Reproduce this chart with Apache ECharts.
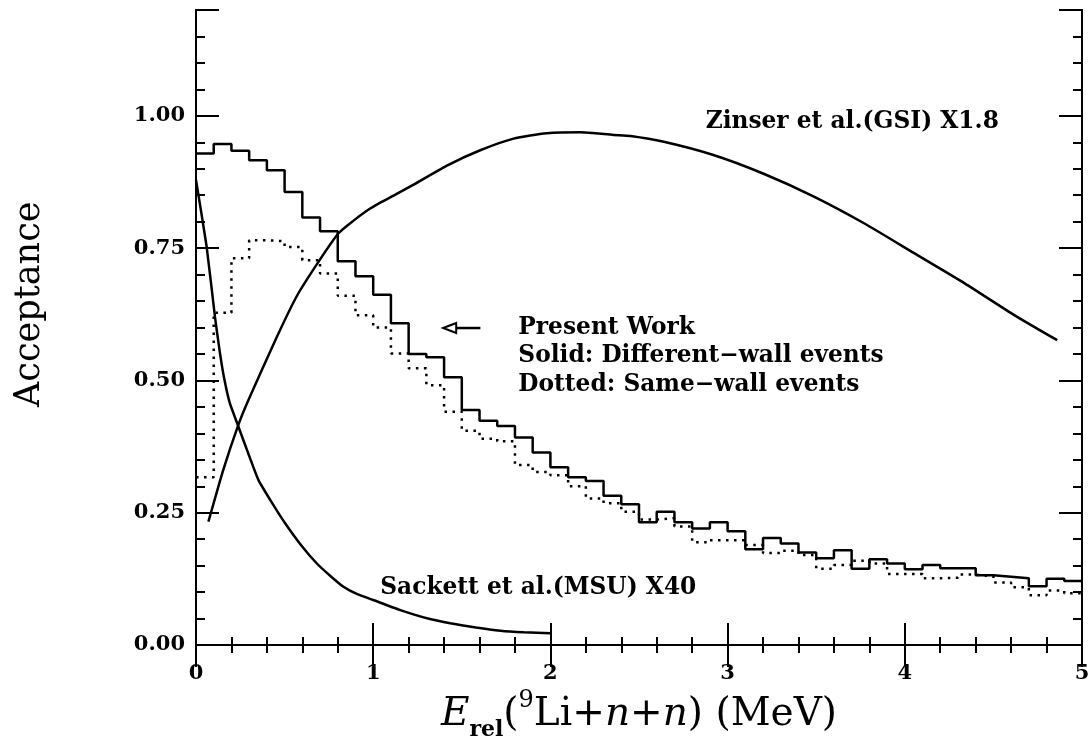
<!DOCTYPE html>
<html>
<head>
<meta charset="utf-8">
<script src="https://cdn.jsdelivr.net/npm/echarts@6/dist/echarts.min.js"></script>
<style>
html,body{margin:0;padding:0;background:#fff;}
#chart{width:1091px;height:736px;}
</style>
</head>
<body>
<div id="chart"></div>
<script>
// ---- data ----
const binLower = [0.0,0.1,0.2,0.3,0.4,0.5,0.6,0.7,0.8,0.9,1.0,1.1,1.2,1.3,1.4,1.5,1.6,1.7,1.8,1.9,
  2.0,2.1,2.2,2.3,2.4,2.5,2.6,2.7,2.8,2.9,3.0,3.1,3.2,3.3,3.4,3.5,3.6,3.7,3.8,3.9,
  4.0,4.1,4.2,4.3,4.4,4.5,4.6,4.7,4.8,4.9];
const binUpperEnd = 5.0;
const solidDifferentWall = [0.929,0.947,0.934,0.916,0.897,0.856,0.808,0.782,0.725,0.697,
  0.662,0.608,0.550,0.544,0.506,0.444,0.424,0.414,0.392,0.364,
  0.336,0.317,0.310,0.282,0.266,0.232,0.252,0.232,0.220,0.232,
  0.215,0.181,0.202,0.192,0.175,0.164,0.179,0.144,0.162,0.154,
  0.143,0.151,0.145,0.145,0.132,0.129,0.126,0.111,0.125,0.121];
const dottedSameWall = [0.317,0.628,0.731,0.765,0.763,0.752,0.727,0.702,0.660,0.623,
  0.600,0.551,0.523,0.491,0.441,0.405,0.390,0.385,0.340,0.327,
  0.321,0.300,0.277,0.268,0.252,0.237,0.240,0.224,0.194,0.198,
  0.198,0.189,0.174,0.178,0.170,0.144,0.151,0.159,0.154,0.134,
  0.134,0.126,0.127,0.133,0.130,0.118,0.109,0.094,0.103,0.098];
const sackettX = [0,0.06,0.107,0.135,0.16,0.19,0.239,0.295,0.352,0.43,0.503,0.59,0.682,0.76,0.832,0.91,1.0,1.153,1.32,1.435,1.58,1.718,1.85,2.0];
const sackettY = [0.879,0.753,0.62,0.552,0.502,0.458,0.413,0.362,0.312,0.268,0.230,0.19,0.154,0.13,0.110,0.096,0.085,0.066,0.049,0.041,0.033,0.027,0.024,0.022];
const zinserX = [0.07,0.154,0.239,0.296,0.456,0.57,0.691,0.804,0.889,0.97,1.04,1.13,1.228,1.416,1.604,1.792,1.98,2.17,2.356,2.452,2.64,2.92,3.2,3.49,3.77,4.05,4.34,4.62,4.86];
const zinserY = [0.233,0.331,0.416,0.463,0.582,0.66,0.724,0.778,0.802,0.822,0.836,0.852,0.870,0.906,0.935,0.957,0.967,0.969,0.964,0.962,0.951,0.926,0.891,0.847,0.797,0.741,0.683,0.623,0.576];
const xTicks = [0,1,2,3,4,5];
const yTickLabels = ['0.00','0.25','0.50','0.75','1.00'];
const yTitle = {text:'Acceptance', x:-0.94, y:0.644};
const annotations = [
  {text:'Zinser et al.(GSI) X1.8', x:2.876, y:0.988},
  {text:'Present Work\nSolid: Different\u2212wall events\nDotted: Same\u2212wall events', x:1.819, y:0.546},
  {text:'Sackett et al.(MSU) X40', x:1.04, y:0.108}
];
const arrowFrom = [1.605, 0.599];
const arrowTo = [1.395, 0.599];

// ---- build ----
function histData(vals){
  const d = binLower.map((x,i)=>[x, vals[i]]);
  d.push([binUpperEnd, vals[vals.length-1]]);
  return d;
}
const FONT = 'DejaVu Serif';
const chart = echarts.init(document.getElementById('chart'), null, {renderer:'canvas'});
const axisLine = {show:true, lineStyle:{color:'#000', width:2}};
function xAx(pos, labels){
  return {
    type:'value', position:pos, min:0, max:5, interval:1,
    axisLine: axisLine,
    axisTick:{show:true, inside:true, length:22, lineStyle:{color:'#000', width:2}},
    minorTick:{show:true, splitNumber:5, length:8, lineStyle:{color:'#000', width:2}},
    splitLine:{show:false}, minorSplitLine:{show:false},
    axisLabel:{show:labels, margin:18, color:'#000', fontFamily:FONT, fontWeight:'bold', fontSize:21,
      formatter: v => (xTicks.indexOf(v) >= 0 ? String(v) : '')},
    name: labels ? '{e|E}{sub|rel}{n|(}{sup|9}{n|Li+}{i|n}{n|+}{i|n}{n|) (MeV)}' : '',
    nameLocation:'middle', nameGap:36,
    nameTextStyle:{
      rich:{
        e:{fontFamily:FONT, fontStyle:'italic', fontSize:39, color:'#000', lineHeight:52, verticalAlign:'middle'},
        sub:{fontFamily:FONT, fontWeight:'bold', fontSize:22, color:'#000', lineHeight:52, verticalAlign:'bottom'},
        sup:{fontFamily:FONT, fontSize:24, color:'#000', lineHeight:52, verticalAlign:'top'},
        n:{fontFamily:FONT, fontSize:39, color:'#000', lineHeight:52, verticalAlign:'middle'},
        i:{fontFamily:FONT, fontStyle:'italic', fontSize:39, color:'#000', lineHeight:52, verticalAlign:'middle'}
      }
    }
  };
}
function yAx(pos, major, labels){
  return {
    type:'value', position:pos, min:0, max:1.2, interval: major ? 0.25 : 0.05,
    axisLine: axisLine,
    axisTick:{show:true, inside:true, length: major ? 23 : 9, lineStyle:{color:'#000', width:2}},
    splitLine:{show:false},
    axisLabel:{show:labels, margin:11, color:'#000', fontFamily:FONT, fontWeight:'bold', fontSize:21,
      formatter: v => { const s = v.toFixed(2); return yTickLabels.indexOf(s) >= 0 ? s : ''; }}
  };
}
const option = {
  backgroundColor:'#fff',
  animation:false,
  grid:{left:196, right:9, top:10, bottom:91, containLabel:false, outerBoundsMode:'none'},
  xAxis:[xAx('bottom', true), xAx('top', false)],
  yAxis:[yAx('left', true, true), yAx('left', false, false), yAx('right', true, false), yAx('right', false, false)],
  series:[
    {type:'line', name:'Solid: Different-wall events', step:'end', data:histData(solidDifferentWall),
      showSymbol:false, lineStyle:{color:'#000', width:2.5}, z:5},
    {type:'line', name:'Dotted: Same-wall events', step:'end', data:histData(dottedSameWall),
      showSymbol:false, lineStyle:{color:'#000', width:2.5, type:[2.5,5.5]}, z:5},
    {type:'line', name:'Sackett et al.(MSU) X40', data:sackettX.map((x,i)=>[x,sackettY[i]]),
      showSymbol:false, smooth:0.15, lineStyle:{color:'#000', width:2.5}, z:5},
    {type:'line', name:'Zinser et al.(GSI) X1.8', data:zinserX.map((x,i)=>[x,zinserY[i]]),
      showSymbol:false, smooth:0.2, lineStyle:{color:'#000', width:2.5}, z:5}
  ]
};
chart.setOption(option);

function px(p){ return chart.convertToPixel({xAxisIndex:0, yAxisIndex:0}, p); }
const elements = annotations.map(a => {
  const p = px([a.x, a.y]);
  return {type:'text', x:p[0], y:p[1], z:20,
    style:{text:a.text, fill:'#000', font:'bold 23.3px "DejaVu Serif"', lineHeight:28.5,
      textAlign:'left', textVerticalAlign:'middle'}};
});
const yt = px([yTitle.x, yTitle.y]);
elements.push({type:'text', x:yt[0], y:yt[1], rotation:Math.PI/2, z:20,
  style:{text:yTitle.text, fill:'#000', font:'35px "DejaVu Serif"', textAlign:'center', textVerticalAlign:'middle'}});
const a0 = px(arrowFrom), a1 = px(arrowTo);
elements.push({type:'line', z:20, shape:{x1:a0[0], y1:a0[1], x2:a1[0]+12, y2:a1[1]}, style:{stroke:'#000', lineWidth:2.5}});
elements.push({type:'polygon', z:20, shape:{points:[[a1[0],a1[1]],[a1[0]+13,a1[1]-5],[a1[0]+13,a1[1]+5]]}, style:{stroke:'#000', fill:'#fff', lineWidth:2}});
chart.setOption({graphic:{elements:elements}});
</script>
</body>
</html>
